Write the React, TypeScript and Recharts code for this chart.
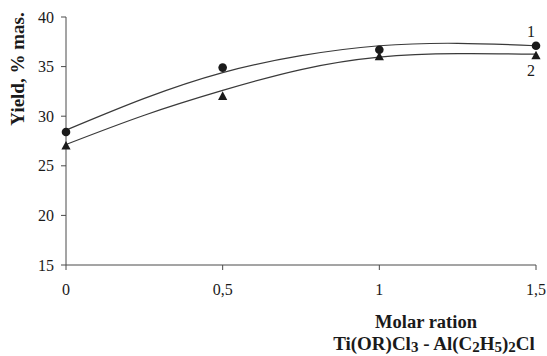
import React from 'react';
import { ComposedChart, XAxis, YAxis, Line, Scatter, Label } from 'recharts';

// ---- data ----
const ratios = [0, 0.5, 1, 1.5];
const yield1 = [28.4, 34.9, 36.7, 37.1];
const yield2 = [27.0, 32.0, 36.0, 36.1];
const trendX = [0, 0.25, 0.5, 0.75, 1, 1.25, 1.5];
const trend1 = [28.6, 31.8, 34.4, 36.1, 37.1, 37.35, 37.1];
const trend2 = [27.15, 30.1, 32.6, 34.7, 35.95, 36.3, 36.25];
const seriesNames = ['1', '2'];
const xTicks = [0, 0.5, 1, 1.5];
const yTicks = [15, 20, 25, 30, 35, 40];
const yTitle = 'Yield, % mas.';
const xTitle1 = 'Molar ration';

// ---- layout constants ----
const W = 547;
const H = 356;
const FONT = '"Liberation Serif", "Times New Roman", serif';
const INK = '#1a1a1a';
const AXIS = '#4a4a4a';

const build = (xs: number[], ys: number[], tag?: string) =>
  xs.map((x, i) => ({ x, y: ys[i], tag: tag && i === xs.length - 1 ? tag : '' }));

const pts1 = build(ratios, yield1, seriesNames[0]);
const pts2 = build(ratios, yield2, seriesNames[1]);
const line1 = build(trendX, trend1);
const line2 = build(trendX, trend2);

const CircleShape = (p: any) => {
  const { cx, cy, payload } = p;
  if (cx == null || cy == null) return null;
  return (
    <g>
      <circle cx={cx} cy={cy} r={4.3} fill={INK} />
      {payload && payload.tag ? (
        <text x={cx - 5} y={cy - 8.5} textAnchor="middle" fontFamily={FONT} fontSize={16} fill={INK}>
          {payload.tag}
        </text>
      ) : null}
    </g>
  );
};

const TriangleShape = (p: any) => {
  const { cx, cy, payload } = p;
  if (cx == null || cy == null) return null;
  return (
    <g>
      <polygon points={`${cx},${cy - 5} ${cx + 4.6},${cy + 3.6} ${cx - 4.6},${cy + 3.6}`} fill={INK} />
      {payload && payload.tag ? (
        <text x={cx - 5} y={cy + 20} textAnchor="middle" fontFamily={FONT} fontSize={16} fill={INK}>
          {payload.tag}
        </text>
      ) : null}
    </g>
  );
};

const XTick = (p: any) => {
  const { x, y, payload } = p;
  return (
    <text x={x} y={y + 21} textAnchor="middle" fontFamily={FONT} fontSize={16} fill={INK}>
      {String(payload.value).replace('.', ',')}
    </text>
  );
};

const YTick = (p: any) => {
  const { x, y, payload } = p;
  return (
    <text x={x - 3} y={y + 5.5} textAnchor="end" fontFamily={FONT} fontSize={16} fill={INK}>
      {payload.value}
    </text>
  );
};

const XTitle = (props: any) => {
  const vb = props.viewBox || { x: 0, y: 0, width: 0, height: 0 };
  return (
    <g fontFamily={FONT} fontWeight="bold" fill={INK}>
      <text x={vb.x + 360} y={vb.y + 63} textAnchor="middle" fontSize={18.5}>
        {xTitle1}
      </text>
      <text x={vb.x + 368} y={vb.y + 85} textAnchor="middle" fontSize={19}>
        <tspan>Ti(OR)Cl</tspan>
        <tspan fontSize={15} dy={2}>3</tspan>
        <tspan dy={-2}> - Al(C</tspan>
        <tspan fontSize={15} dy={2}>2</tspan>
        <tspan dy={-2}>H</tspan>
        <tspan fontSize={15} dy={2}>5</tspan>
        <tspan dy={-2}>)</tspan>
        <tspan fontSize={15} dy={2}>2</tspan>
        <tspan dy={-2}>Cl</tspan>
      </text>
    </g>
  );
};

const YTitle = (props: any) => {
  const vb = props.viewBox || { x: 0, y: 0, width: 0, height: 0 };
  const x = vb.x + 24;
  const y = vb.y + 52;
  return (
    <text
      x={x}
      y={y}
      transform={`rotate(-90, ${x}, ${y})`}
      textAnchor="middle"
      fontFamily={FONT}
      fontWeight="bold"
      fontSize={19}
      fill={INK}
    >
      {yTitle}
    </text>
  );
};

export default function App() {
  return (
    <div style={{ position: 'absolute', left: 0, top: 0, width: W, height: H, background: '#fff' }}>
      <ComposedChart width={W} height={H} margin={{ top: 17, right: 11, bottom: 0, left: 0 }}>
        <XAxis
          xAxisId="data"
          type="number"
          dataKey="x"
          domain={[0, 1.5]}
          ticks={xTicks}
          height={91}
          axisLine={{ stroke: AXIS }}
          tickLine={{ stroke: AXIS }}
          tickSize={5}
          tickMargin={4}
          tick={<XTick />}
          label={<Label content={XTitle} />}
        />
        <YAxis
          yAxisId="y"
          type="number"
          dataKey="y"
          domain={[15, 40]}
          ticks={yTicks}
          width={66}
          axisLine={{ stroke: AXIS }}
          tickLine={{ stroke: AXIS }}
          tickSize={5}
          tickMargin={4}
          tick={<YTick />}
          label={<Label content={YTitle} />}
        />
        <Line
          xAxisId="data"
          yAxisId="y"
          data={line1}
          dataKey="y"
          type="natural"
          stroke="#3a3a3a"
          strokeWidth={1.2}
          dot={false}
          activeDot={false}
          isAnimationActive={false}
        />
        <Line
          xAxisId="data"
          yAxisId="y"
          data={line2}
          dataKey="y"
          type="natural"
          stroke="#3a3a3a"
          strokeWidth={1.2}
          dot={false}
          activeDot={false}
          isAnimationActive={false}
        />
        <Scatter xAxisId="data" yAxisId="y" data={pts1} dataKey="y" shape={CircleShape} isAnimationActive={false} />
        <Scatter xAxisId="data" yAxisId="y" data={pts2} dataKey="y" shape={TriangleShape} isAnimationActive={false} />
      </ComposedChart>
    </div>
  );
}
